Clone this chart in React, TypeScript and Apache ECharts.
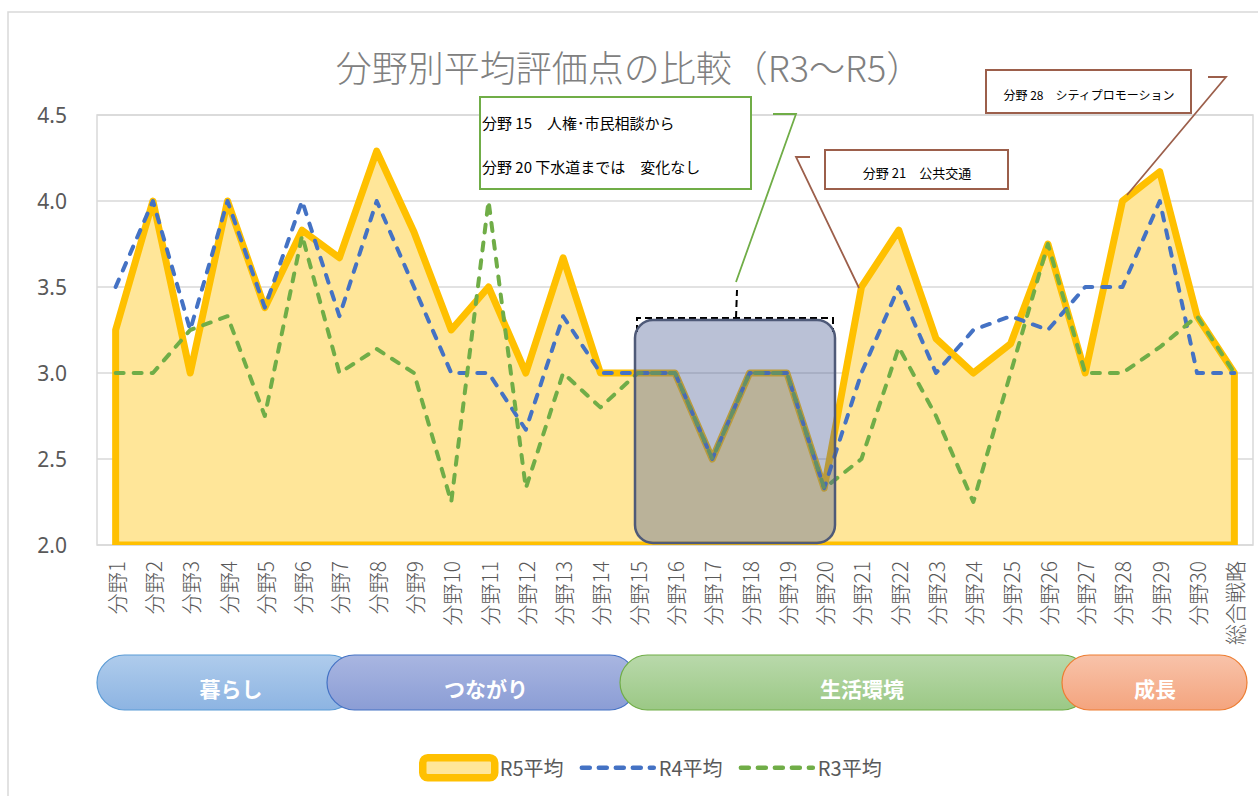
import React, { useEffect, useRef } from "react";
import * as echarts from "echarts";

const categories: string[] = [
  "分野1", "分野2", "分野3", "分野4", "分野5", "分野6", "分野7", "分野8", "分野9", "分野10",
  "分野11", "分野12", "分野13", "分野14", "分野15", "分野16", "分野17", "分野18", "分野19", "分野20",
  "分野21", "分野22", "分野23", "分野24", "分野25", "分野26", "分野27", "分野28", "分野29", "分野30",
  "総合戦略",
];

const r5: number[] = [
  3.25, 4.0, 3.0, 4.0, 3.38, 3.83, 3.67, 4.29, 3.82, 3.25,
  3.5, 3.0, 3.67, 3.0, 3.0, 3.0, 2.5, 3.0, 3.0, 2.33,
  3.5, 3.83, 3.2, 3.0, 3.17, 3.75, 3.0, 4.0, 4.17, 3.33,
  3.0,
];

const r4: number[] = [
  3.5, 4.0, 3.25, 4.0, 3.38, 4.0, 3.33, 4.0, 3.5, 3.0,
  3.0, 2.67, 3.33, 3.0, 3.0, 3.0, 2.5, 3.0, 3.0, 2.33,
  3.0, 3.5, 3.0, 3.25, 3.33, 3.25, 3.5, 3.5, 4.0, 3.0,
  3.0,
];

const r3: number[] = [
  3.0, 3.0, 3.25, 3.33, 2.75, 3.8, 3.0, 3.14, 3.0, 2.25,
  4.0, 2.33, 3.0, 2.8, 3.0, 3.0, 2.5, 3.0, 3.0, 2.33,
  2.5, 3.15, 2.75, 2.25, 3.0, 3.75, 3.0, 3.0, 3.15, 3.33,
  3.0,
];

const seriesNames: string[] = ["R5平均", "R4平均", "R3平均"];
const groupLabels: string[] = ["暮らし", "つながり", "生活環境", "成長"];

const Y_MIN = 2.0;
const Y_MAX = 4.5;
const Y_STEP = 0.5;

const TITLE = "分野別平均評価点の比較（R3〜R5）";
const NOTE_LINE1 = "分野 15　人権･市民相談から";
const NOTE_LINE2 = "分野 20 下水道までは　変化なし";
const NOTE_21 = "分野 21　公共交通";
const NOTE_28 = "分野 28　シティプロモーション";

const JP = '"Noto Sans CJK JP", "Noto Sans", sans-serif';
const GRAY = "#595959";
const BROWN = "#9C5F4B";

function pill(x: number, w: number, top: string, bottom: string, border: string) {
  return {
    type: "rect",
    z: 50,
    shape: { x, y: 655, width: w, height: 55, r: 27.5 },
    style: {
      fill: new echarts.graphic.LinearGradient(0, 0, 0, 1, [
        { offset: 0, color: top },
        { offset: 1, color: bottom },
      ]),
      stroke: border,
      lineWidth: 1.2,
    },
  };
}

function pillText(cx: number, text: string) {
  return {
    type: "text",
    z: 51,
    x: cx,
    y: 688,
    style: {
      text,
      fill: "#ffffff",
      font: `bold 21px ${JP}`,
      align: "center",
      verticalAlign: "middle",
    },
  };
}

export default function App() {
  const ref = useRef<HTMLDivElement>(null);

  useEffect(() => {
    if (!ref.current) return;
    const chart = echarts.init(ref.current, undefined, { renderer: "svg" });

    const dashed = (color: string) => ({
      color,
      width: 4,
      type: [8, 10],
      cap: "round",
      join: "round",
    });

    const option: any = {
      animation: false,
      backgroundColor: "#ffffff",
      title: {
        text: TITLE,
        left: "center",
        top: 43,
        textStyle: {
          fontFamily: JP,
          fontSize: 36,
          fontWeight: 300,
          color: "#808080",
        },
      },
      grid: {
        left: 97,
        top: 115,
        right: 5,
        bottom: 251,
        show: true,
        borderColor: "#D9D9D9",
        borderWidth: 1.5,
      },
      legend: {
        left: 414,
        top: 749,
        itemWidth: 72,
        itemHeight: 20,
        itemGap: 16,
        textStyle: { fontFamily: JP, fontSize: 20, color: GRAY },
        data: [
          {
            name: seriesNames[0],
            icon: "roundRect",
            itemStyle: { color: "#FFE699", borderColor: "#FFC000", borderWidth: 7.5 },
          },
          {
            name: seriesNames[1],
            itemStyle: { opacity: 0 },
            lineStyle: { color: "#4472C4", width: 4.5, type: [8, 9], cap: "round" },
          },
          {
            name: seriesNames[2],
            itemStyle: { opacity: 0 },
            lineStyle: { color: "#70AD47", width: 4.5, type: [8, 9], cap: "round" },
          },
        ],
      },
      xAxis: {
        type: "category",
        data: categories,
        boundaryGap: true,
        axisLine: { show: false },
        axisTick: { show: false },
        axisLabel: {
          rotate: 90,
          interval: 0,
          margin: 16,
          fontFamily: JP,
          fontSize: 21,
          fontWeight: 300,
          color: GRAY,
        },
      },
      yAxis: {
        type: "value",
        min: Y_MIN,
        max: Y_MAX,
        interval: Y_STEP,
        axisLine: { show: false },
        axisTick: { show: false },
        axisLabel: {
          margin: 30,
          fontFamily: '"Noto Sans", sans-serif',
          fontSize: 21,
          color: GRAY,
          formatter: (v: number) => v.toFixed(1),
        },
        splitLine: { lineStyle: { color: "#D9D9D9", width: 1.5 } },
      },
      series: [
        {
          name: seriesNames[0],
          type: "custom",
          z: 2,
          itemStyle: { color: "#FFC000" },
          data: r5.map((v, i) => [i, v]),
          encode: { x: 0, y: 1 },
          clip: true,
          renderItem: (params: any, api: any) => {
            if (params.dataIndex !== 0) return null;
            const pts = r5.map((v, i) => api.coord([i, v]));
            const br = api.coord([r5.length - 1, Y_MIN]);
            const bl = api.coord([0, Y_MIN]);
            return {
              type: "polygon",
              shape: { points: [...pts, br, bl] },
              style: {
                fill: "#FFE699",
                stroke: "#FFC000",
                lineWidth: 7,
                lineJoin: "round",
              },
            };
          },
        },
        {
          name: seriesNames[1],
          type: "line",
          z: 3,
          data: r4,
          symbol: "none",
          color: "#4472C4",
          lineStyle: dashed("#4472C4"),
        },
        {
          name: seriesNames[2],
          type: "line",
          z: 4,
          data: r3,
          symbol: "none",
          color: "#70AD47",
          lineStyle: dashed("#70AD47"),
        },
      ],
      graphic: [
        {
          type: "rect",
          z: 1,
          silent: true,
          shape: { x: 8, y: 12, width: 1262, height: 800 },
          style: { fill: "none", stroke: "#D9D9D9", lineWidth: 1.5 },
        },
        {
          type: "rect",
          z: 100,
          shape: { x: 635, y: 320, width: 200, height: 223, r: 18 },
          style: { fill: "rgba(83,100,152,0.4)", stroke: "#4F5A78", lineWidth: 2.5 },
        },
        {
          type: "polyline",
          z: 99,
          shape: { points: [[637, 332], [637, 318], [833, 318], [833, 332]] },
          style: { fill: "none", stroke: "#000000", lineWidth: 2, lineDash: [7, 4] },
        },
        {
          type: "line",
          z: 99,
          shape: { x1: 736, y1: 318, x2: 737, y2: 290 },
          style: { stroke: "#000000", lineWidth: 2, lineDash: [7, 4] },
        },
        {
          type: "polyline",
          z: 101,
          shape: { points: [[736, 282], [796, 114], [773, 114]] },
          style: { fill: "none", stroke: "#70AD47", lineWidth: 1.8 },
        },
        {
          type: "rect",
          z: 101,
          shape: { x: 480, y: 97, width: 271, height: 92 },
          style: { fill: "#ffffff", stroke: "#70AD47", lineWidth: 2 },
        },
        {
          type: "text",
          z: 102,
          x: 482,
          y: 122,
          style: { text: NOTE_LINE1, fill: "#000000", font: `15px ${JP}`, verticalAlign: "middle" },
        },
        {
          type: "text",
          z: 102,
          x: 482,
          y: 166,
          style: { text: NOTE_LINE2, fill: "#000000", font: `15px ${JP}`, verticalAlign: "middle" },
        },
        {
          type: "polyline",
          z: 101,
          shape: { points: [[859, 288], [796, 157], [810, 157]] },
          style: { fill: "none", stroke: BROWN, lineWidth: 1.8 },
        },
        {
          type: "rect",
          z: 101,
          shape: { x: 825, y: 150, width: 183, height: 39 },
          style: { fill: "#ffffff", stroke: BROWN, lineWidth: 2 },
        },
        {
          type: "text",
          z: 102,
          x: 917,
          y: 172,
          style: { text: NOTE_21, fill: "#000000", font: `13px ${JP}`, align: "center", verticalAlign: "middle" },
        },
        {
          type: "polyline",
          z: 101,
          shape: { points: [[1127, 195], [1226, 77], [1208, 77]] },
          style: { fill: "none", stroke: BROWN, lineWidth: 1.8 },
        },
        {
          type: "rect",
          z: 101,
          shape: { x: 986, y: 70, width: 205, height: 43 },
          style: { fill: "#ffffff", stroke: BROWN, lineWidth: 2 },
        },
        {
          type: "text",
          z: 102,
          x: 1089,
          y: 94,
          style: { text: NOTE_28, fill: "#000000", font: `12px ${JP}`, align: "center", verticalAlign: "middle" },
        },
        pill(97, 260, "#AFCCEC", "#8DB4E2", "#5B9BD5"),
        pillText(231, groupLabels[0]),
        pill(327, 310, "#A9B6E1", "#8B9DD5", "#4472C4"),
        pillText(486, groupLabels[1]),
        pill(620, 470, "#B9D9AB", "#9BC885", "#70AD47"),
        pillText(862, groupLabels[2]),
        pill(1062, 185, "#F8C3AA", "#F4A47E", "#ED7D31"),
        pillText(1155, groupLabels[3]),
      ],
    };

    chart.setOption(option);
    return () => chart.dispose();
  }, []);

  return (
    <div
      ref={ref}
      style={{ position: "fixed", left: 0, top: 0, width: 1258, height: 796, background: "#fff" }}
    />
  );
}
